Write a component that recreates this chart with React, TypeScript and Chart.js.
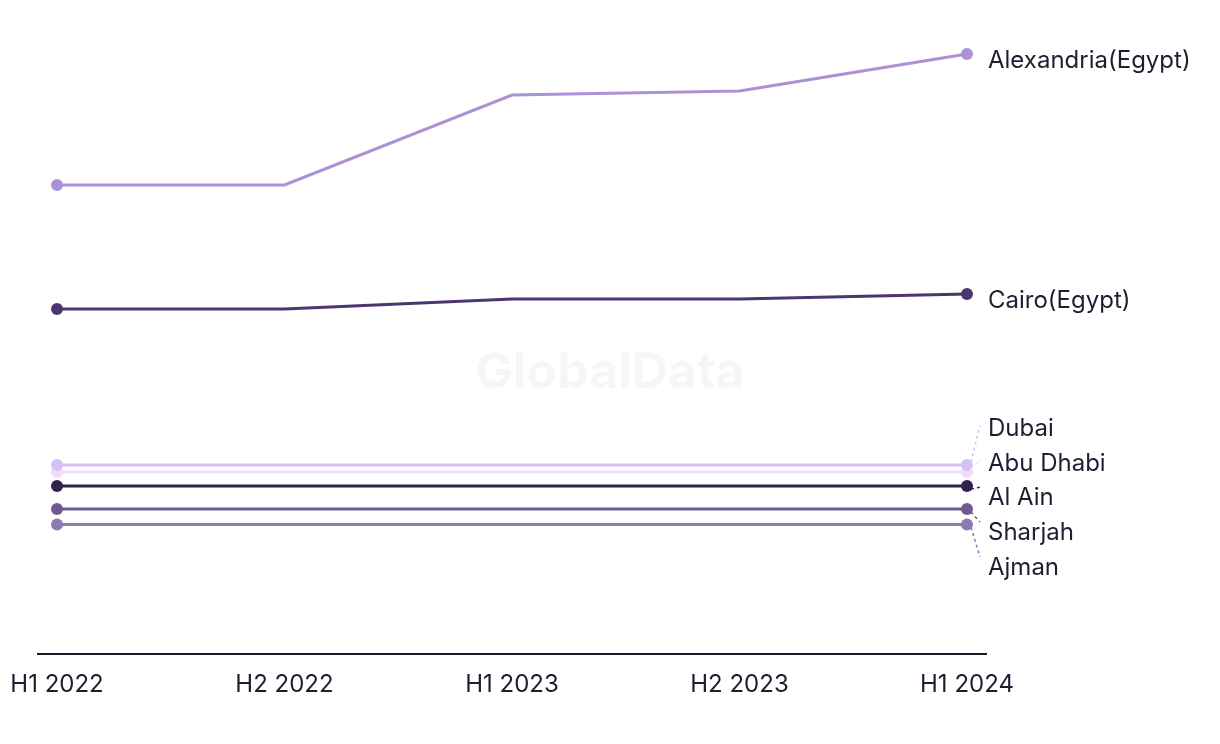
import React, { useEffect, useRef } from "react";
import { Chart, registerables } from "chart.js";

Chart.register(...registerables);

const periods = ["H1 2022", "H2 2022", "H1 2023", "H2 2023", "H1 2024"];
const cities = ["Alexandria(Egypt)", "Cairo(Egypt)", "Dubai", "Abu Dhabi", "Al Ain", "Sharjah", "Ajman"];
const alexandria = [2345, 2345, 2795, 2815, 3000];
const cairo = [1725, 1725, 1775, 1775, 1800];
const dubai = [945, 945, 945, 945, 945];
const abuDhabi = [910, 910, 910, 910, 910];
const alAin = [840, 840, 840, 840, 840];
const sharjah = [725, 725, 725, 725, 725];
const ajman = [648, 648, 648, 648, 648];
const colors = ["#ad91d6", "#4c3570", "#d5bff5", "#f1dcfc", "#33204f", "#6f5a8f", "#8f78b0"];
const seriesValues = [alexandria, cairo, dubai, abuDhabi, alAin, sharjah, ajman];

const TEXT = "#1e1e30";
const FONT = "Inter, 'Noto Sans', sans-serif";

const endLabels = {
  id: "endLabels",
  afterDatasetsDraw(chart: any) {
    const ctx = chart.ctx;
    const items: any[] = [];
    chart.data.datasets.forEach((ds: any, i: number) => {
      const meta = chart.getDatasetMeta(i);
      const pt = meta.data[meta.data.length - 1];
      items.push({ label: ds.label, color: ds.borderColor, px: pt.x, py: pt.y, ly: pt.y });
    });
    const gap = 34.75;
    const sorted = items.slice().sort((a, b) => a.py - b.py);
    let groups: any[] = sorted.map((it) => ({ items: [it], center: it.py }));
    let changed = true;
    while (changed) {
      changed = false;
      for (let g = 0; g < groups.length - 1; g++) {
        const a = groups[g], b = groups[g + 1];
        const aBottom = a.center + ((a.items.length - 1) * gap) / 2;
        const bTop = b.center - ((b.items.length - 1) * gap) / 2;
        if (bTop - aBottom < gap) {
          const all = a.items.concat(b.items);
          const mean = all.reduce((s: number, it: any) => s + it.py, 0) / all.length;
          groups.splice(g, 2, { items: all, center: mean });
          changed = true;
          break;
        }
      }
    }
    groups.forEach((g) => {
      g.items.forEach((it: any, k: number) => {
        it.ly = g.center + (k - (g.items.length - 1) / 2) * gap;
      });
    });
    ctx.save();
    items.forEach((it) => {
      if (Math.abs(it.ly - it.py) > 2) {
        ctx.beginPath();
        ctx.setLineDash([3, 3]);
        ctx.strokeStyle = it.color;
        ctx.lineWidth = 1.5;
        const dir = it.ly > it.py ? 1 : -1;
        ctx.moveTo(it.px + 4, it.py + dir * 3);
        ctx.lineTo(it.px + 13, it.ly - 4 * dir);
        ctx.stroke();
      }
      ctx.setLineDash([]);
      ctx.fillStyle = TEXT;
      ctx.font = `24px ${FONT}`;
      ctx.textAlign = "left";
      ctx.textBaseline = "middle";
      ctx.fillText(it.label, it.px + 21, it.ly + 7);
    });
    ctx.restore();
  },
};

const watermark = {
  id: "watermark",
  beforeDatasetsDraw(chart: any) {
    const ctx = chart.ctx;
    ctx.save();
    ctx.font = `bold 50px ${FONT}`;
    ctx.fillStyle = "rgba(0,0,0,0.035)";
    ctx.textAlign = "center";
    ctx.textBaseline = "middle";
    ctx.fillText("GlobalData", chart.width / 2, 373);
    ctx.restore();
  },
};

export default function App() {
  const ref = useRef<HTMLCanvasElement>(null);
  useEffect(() => {
    if (!ref.current) return;
    const chart = new Chart(ref.current, {
      type: "line",
      data: {
        datasets: cities.map((c, i) => ({
          label: c,
          data: seriesValues[i].map((v, j) => ({ x: j, y: v })),
          borderColor: colors[i],
          backgroundColor: colors[i],
          pointBackgroundColor: colors[i],
          pointBorderWidth: 0,
          pointRadius: seriesValues[i].map((_, j) => (j === 0 || j === seriesValues[i].length - 1 ? 6 : 0)),
          borderWidth: 3,
          tension: 0,
        })),
      },
      options: {
        animation: false,
        responsive: false,
        layout: { padding: { left: 38, right: 234, top: 24, bottom: 0 } },
        plugins: { legend: { display: false }, tooltip: { enabled: false } },
        scales: {
          x: {
            type: "linear",
            min: -0.0836,
            max: 4.0836,
            afterBuildTicks: (scale: any) => {
              scale.ticks = periods.map((_, i) => ({ value: i }));
            },
            afterFit: (scale: any) => {
              scale.height = 90;
              scale.paddingLeft = 0;
              scale.paddingRight = 0;
            },
            grid: { display: false, drawTicks: false },
            border: { display: true, color: "#1a1a2e", width: 2 },
            ticks: {
              padding: 16,
              maxRotation: 0,
              autoSkip: false,
              color: TEXT,
              font: { family: FONT, size: 24 },
              callback: (v: any) => periods[Math.round(v)] ?? "",
            },
          },
          y: {
            display: false,
            min: 0,
            max: 3150,
          },
        },
      },
      plugins: [watermark, endLabels],
    });
    return () => chart.destroy();
  }, []);
  return (
    <canvas
      ref={ref}
      width={1220}
      height={744}
      style={{ position: "fixed", left: 0, top: 0, width: 1220, height: 744 }}
    />
  );
}
